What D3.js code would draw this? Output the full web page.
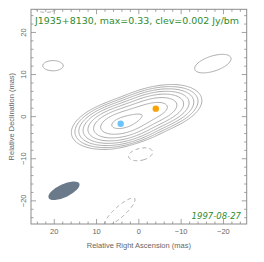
<!DOCTYPE html>
<html><head><meta charset="utf-8">
<script src="https://cdn.jsdelivr.net/npm/d3@7"></script>
<style>body{margin:0;background:#fff}svg{display:block}</style>
</head><body>
<svg id="c" width="264" height="262"></svg>
<script>
// ---- data ----
const title = "J1935+8130, max=0.33, clev=0.002 Jy/bm";
const dateLabel = "1997-08-27";
const xTicks = [20, 10, 0, -10, -20];
const yTicks = [-20, -10, 0, 10, 20];
const clev = 0.002;
const posLevels = [1, 2, 4, 8, 16, 32, 64, 128];   // multiples of clev
const negLevels = [1];
// model components (RA mas, Dec mas, peak Jy/bm, FWHM major, FWHM minor, angle deg)
const compX    = [4.3, 0.15, -4.0, 20.3, -17.5, -0.4, 4.5, 22.0];
const compY    = [-1.7, 0.1, 1.9, 12.1, 12.6, -8.9, -22.6, 27.0];
const compPeak = [0.28, 0.08, 0.15, 0.0035, 0.0035, -0.0035, -0.0035, -0.0035];
const compMaj  = [8.9, 8.9, 8.9, 5.4, 10.0, 6.5, 10.5, 7.5];
const compMin  = [4.2, 4.2, 4.2, 2.7, 4.0, 3.3, 2.8, 5.0];
const compAng  = [13, 13, 13, 0, 18, 12, 42, 0];
// model component markers
const dotX = [4.3, -4.0];
const dotY = [-1.7, 1.9];
const dotColor = ["#6cc4f8", "#f7a205"];
// restoring beam
const beam = {x: 17.7, y: -17.6, maj: 8.0, min: 3.1, ang: 25};

// ---- layout ----
const svg = d3.select("#c");
const L = 31, R = 246.7, T = 9.3, B = 224;
const x = d3.scaleLinear().domain([25.5, -25.5]).range([L, R]);
const y = d3.scaleLinear().domain([-25.5, 25.5]).range([B, T]);
const grey = "#8c8c8c";

svg.append("defs").append("clipPath").attr("id","clip")
  .append("rect").attr("x",L).attr("y",T).attr("width",R-L).attr("height",B-T);

// ---- grid ----
const ext = 34, n = 273, step = 2*ext/(n-1);
const vals = new Float64Array(n*n);
for (let j=0;j<n;j++){
  const yy = ext - j*step;
  for (let i=0;i<n;i++){
    const xx = ext - i*step;
    let s = 0;
    for (let k=0;k<compX.length;k++){
      const du = -(xx - compX[k]), dv = yy - compY[k];
      const a = compAng[k]*Math.PI/180;
      const p = du*Math.cos(a) + dv*Math.sin(a);
      const q = -du*Math.sin(a) + dv*Math.cos(a);
      s += compPeak[k]*Math.exp(-4*Math.LN2*(p*p/(compMaj[k]*compMaj[k]) + q*q/(compMin[k]*compMin[k])));
    }
    vals[i + j*n] = s;
  }
}
const proj = d3.geoTransform({point(px, py){
  this.stream.point(x(ext - (px-0.5)*step), y(ext - (py-0.5)*step));
}});
const path = d3.geoPath(proj);
const g = svg.append("g").attr("clip-path","url(#clip)");
const pc = d3.contours().size([n,n]).smooth(true).thresholds(posLevels.map(m=>m*clev))(Array.from(vals));
g.selectAll("path.pos").data(pc).join("path").attr("class","pos")
  .attr("d", path).attr("fill","none").attr("stroke","#a3a3a3").attr("stroke-width",0.9);
const neg = Array.from(vals, v=>-v);
const nc = d3.contours().size([n,n]).smooth(true).thresholds(negLevels.map(m=>m*clev))(neg);
g.selectAll("path.neg").data(nc).join("path").attr("class","neg")
  .attr("d", path).attr("fill","none").attr("stroke","#a3a3a3").attr("stroke-width",0.9)
  .attr("stroke-dasharray","4,3");

// beam
const sx = Math.abs(x(1)-x(0)), sy = Math.abs(y(1)-y(0));
g.append("ellipse").attr("cx", x(beam.x)).attr("cy", y(beam.y))
  .attr("rx", beam.maj/2*sx).attr("ry", beam.min/2*sy)
  .attr("transform", `rotate(${-beam.ang},${x(beam.x)},${y(beam.y)})`)
  .attr("fill","#6a7a8b");

// dots
g.selectAll("circle.dot").data(dotX).join("circle").attr("class","dot")
  .attr("cx",(d)=>x(d)).attr("cy",(d,i)=>y(dotY[i])).attr("r",3.2)
  .attr("fill",(d,i)=>dotColor[i]);

// frame
svg.append("rect").attr("x",L).attr("y",T).attr("width",R-L).attr("height",B-T)
  .attr("fill","none").attr("stroke",grey).attr("stroke-width",1);

// ticks
const minor = d3.range(-24, 25, 2);
const tk = svg.append("g").attr("stroke",grey).attr("stroke-width",0.8);
minor.forEach(v=>{
  const len = (v%10===0)?5:2.5;
  tk.append("line").attr("x1",x(v)).attr("x2",x(v)).attr("y1",B).attr("y2",B-len);
  tk.append("line").attr("x1",x(v)).attr("x2",x(v)).attr("y1",T).attr("y2",T+len);
  tk.append("line").attr("y1",y(v)).attr("y2",y(v)).attr("x1",L).attr("x2",L+len);
  tk.append("line").attr("y1",y(v)).attr("y2",y(v)).attr("x1",R).attr("x2",R-len);
});
const fmt = v => v<0 ? "\u2212"+Math.abs(v) : String(v);
svg.selectAll("text.xt").data(xTicks).join("text").attr("class","xt")
  .attr("x",d=>x(d)).attr("y",B+10).attr("text-anchor","middle")
  .attr("font-family","Liberation Sans, Arial, sans-serif").attr("font-size",7.5).attr("fill","#666")
  .text(fmt);
svg.selectAll("text.yt").data(yTicks).join("text").attr("class","yt")
  .attr("transform",d=>`translate(${L-5},${y(d)}) rotate(-90)`).attr("text-anchor","middle")
  .attr("font-family","Liberation Sans, Arial, sans-serif").attr("font-size",7.5).attr("fill","#666")
  .text(fmt);
svg.append("text").attr("x",(L+R)/2).attr("y",248).attr("text-anchor","middle")
  .attr("font-family","Liberation Sans, Arial, sans-serif").attr("font-size",7.5).attr("fill","#666")
  .text("Relative Right Ascension (mas)");
svg.append("text").attr("transform",`translate(14,${(T+B)/2}) rotate(-90)`).attr("text-anchor","middle")
  .attr("font-family","Liberation Sans, Arial, sans-serif").attr("font-size",7.5).attr("fill","#666")
  .text("Relative Declination (mas)");
svg.append("text").attr("x",35).attr("y",23.5)
  .attr("font-family","DejaVu Sans, sans-serif").attr("font-size",9.2).attr("fill","#2e8b2e")
  .attr("textLength",204).attr("lengthAdjust","spacingAndGlyphs")
  .text(title);
svg.append("text").attr("x",241).attr("y",218.5).attr("text-anchor","end")
  .attr("font-family","DejaVu Sans, sans-serif").attr("font-style","italic").attr("font-size",8.5).attr("fill","#2e8b2e")
  .text(dateLabel);
</script>
</body></html>
